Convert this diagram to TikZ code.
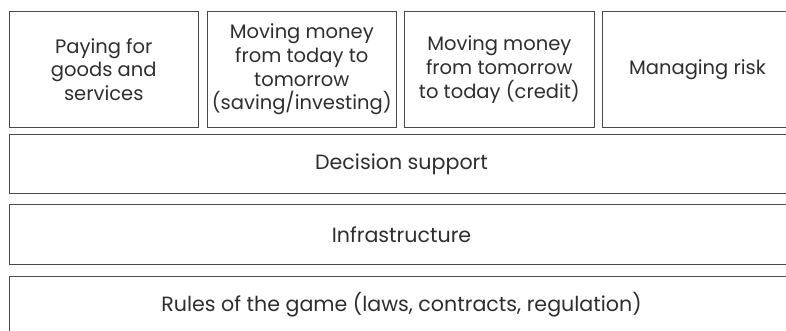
\documentclass[tikz,border=0pt]{standalone}
\usepackage{fontspec}
\setmainfont{Poppins}
\begin{document}
\begin{tikzpicture}[x=1pt,y=-1pt,
  layerbox/.style={draw=linegray, line width=1pt, text=textgray, inner sep=0pt,
    anchor=north west, align=center, font=\fontsize{20.6}{23.7}\selectfont},
  topbox/.style={layerbox, minimum height=116pt, font=\fontsize{19.5}{23.7}\selectfont}]
\definecolor{linegray}{HTML}{4A4A4A}
\definecolor{textgray}{HTML}{2E2E2E}
\clip (0,0) rectangle (786,330);
\node[topbox, minimum width=188.5pt] (pay) at (9,11)
  {Paying for\\goods and\\services};
\node[topbox, minimum width=189.5pt] (save) at (206.5,11)
  {Moving money\\from today to\\tomorrow\\(saving/investing)};
\node[topbox, minimum width=190.3pt] (credit) at (403.7,11)
  {Moving money\\from tomorrow\\to today (credit)};
\node[topbox, minimum width=190pt] (risk) at (602,11)
  {Managing risk};
\node[layerbox, minimum width=784pt, minimum height=59pt] (decision) at (9,134)
  {Decision support};
\node[layerbox, minimum width=784pt, minimum height=60pt] (infra) at (9,204)
  {Infrastructure};
\node[layerbox, minimum width=784pt, minimum height=56pt] (rules) at (9,276)
  {Rules of the game (laws, contracts, regulation)};
\end{tikzpicture}
\end{document}
